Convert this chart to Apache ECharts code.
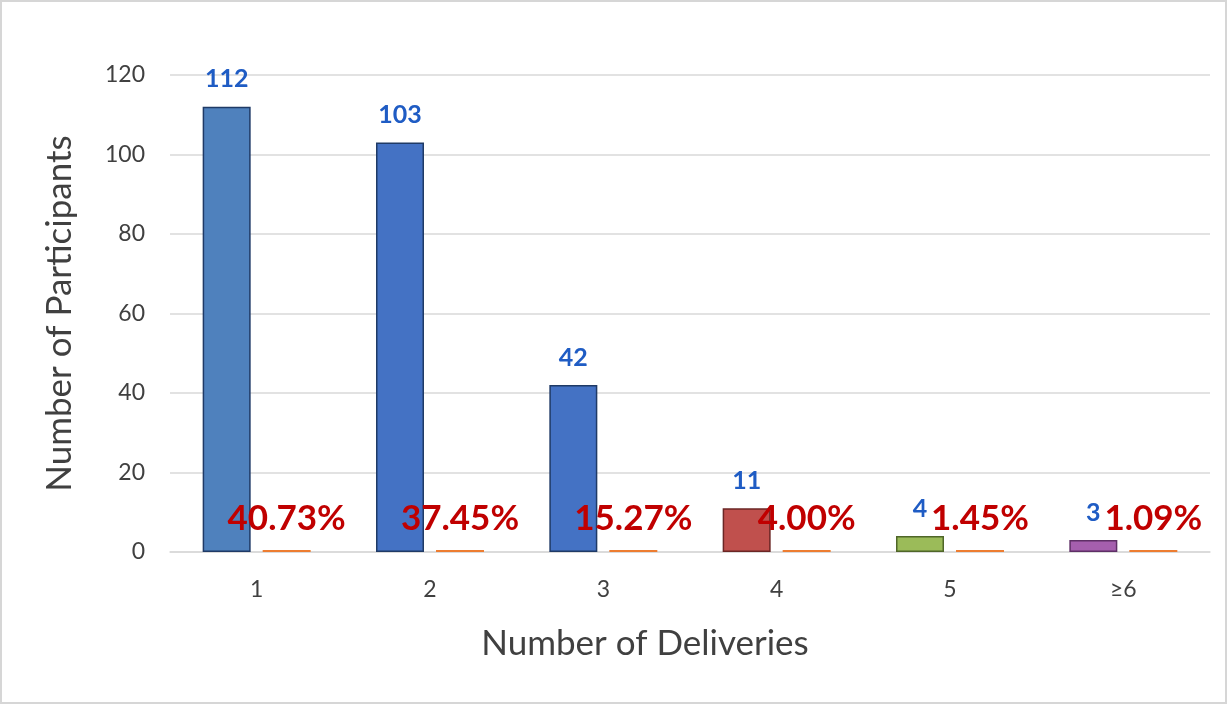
<!DOCTYPE html>
<html>
<head>
<meta charset="utf-8">
<script src="https://cdn.jsdelivr.net/npm/echarts@6/dist/echarts.min.js"></script>
<style>
html,body{margin:0;padding:0;background:#fff;}
#wrap{width:1227px;height:704px;box-sizing:border-box;border:2px solid #d6d6d6;position:relative;}
#chart{position:absolute;left:-2px;top:-2px;width:1227px;height:704px;}
</style>
</head>
<body>
<div id="wrap"><div id="chart"></div></div>
<script>
var categories = ['1', '2', '3', '4', '5', '≥6'];
var participants = [112, 103, 42, 11, 4, 3];
var percentages = [0.4073, 0.3745, 0.1527, 0.0400, 0.0145, 0.0109];
var yTicks = [0, 20, 40, 60, 80, 100, 120];

var fillColors = ['#4f81bd', '#4472c4', '#4472c4', '#c0504d', '#9bbb59', '#a55fae'];
var edgeColors = ['#1f3a66', '#1f3a66', '#1f3a66', '#6b2624', '#4f6628', '#5e2f66'];
var FONT = 'Lato, "Open Sans", sans-serif';

var chart = echarts.init(document.getElementById('chart'));
chart.setOption({
  animation: false,
  textStyle: { fontFamily: FONT },
  grid: { left: 170, right: 17, top: 75, bottom: 152 },
  xAxis: {
    type: 'category',
    data: categories,
    axisLine: { show: true, lineStyle: { color: '#d9d9d9', width: 1.5 } },
    axisTick: { show: false },
    axisLabel: { color: '#404040', fontSize: 23, margin: 26, fontFamily: FONT },
    name: 'Number of Deliveries',
    nameLocation: 'middle',
    nameGap: 74,
    nameTextStyle: { color: '#404040', fontSize: 35, fontFamily: FONT, padding: [0, 90, 0, 0] }
  },
  yAxis: {
    type: 'value',
    min: yTicks[0],
    max: yTicks[yTicks.length - 1],
    interval: yTicks[1] - yTicks[0],
    axisLine: { show: false },
    axisTick: { show: false },
    splitLine: { lineStyle: { color: '#d9d9d9', width: 1.5 } },
    axisLabel: { color: '#404040', fontSize: 23, margin: 25, fontFamily: FONT },
    name: 'Number of Participants',
    nameLocation: 'middle',
    nameGap: 93,
    nameTextStyle: { color: '#404040', fontSize: 35, fontFamily: FONT }
  },
  series: [
    {
      type: 'bar',
      barWidth: 48,
      barGap: '25%',
      data: participants.map(function (v, i) {
        return {
          value: v,
          itemStyle: { color: fillColors[i], borderColor: edgeColors[i], borderWidth: 1.5 }
        };
      }),
      label: {
        show: true,
        position: 'top',
        distance: 15,
        color: '#1f5cc4',
        fontSize: 25,
        fontWeight: 'bold',
        fontFamily: FONT
      }
    },
    {
      type: 'bar',
      barWidth: 48,
      barMinHeight: 2,
      data: percentages,
      itemStyle: { color: '#ed7d31' },
      label: {
        show: true,
        position: 'top',
        distance: 14,
        color: '#c00000',
        fontSize: 35,
        fontWeight: 'bold',
        fontFamily: FONT,
        formatter: function (p) { return (p.value * 100).toFixed(2) + '%'; }
      }
    }
  ]
});
</script>
</body>
</html>
